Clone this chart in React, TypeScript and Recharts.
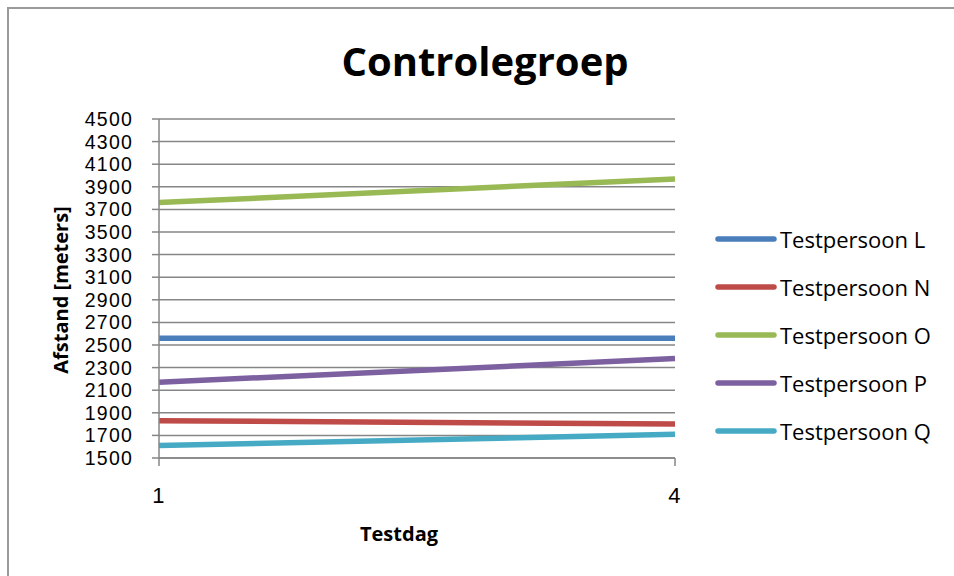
import React from 'react';
import {
  LineChart,
  Line,
  XAxis,
  YAxis,
  CartesianGrid,
  Legend,
} from 'recharts';

// data
const days = ['1', '4'];
const testpersoonL = [2560, 2560];
const testpersoonN = [1830, 1800];
const testpersoonO = [3760, 3970];
const testpersoonP = [2170, 2380];
const testpersoonQ = [1610, 1710];
const yTicks = [1500, 1700, 1900, 2100, 2300, 2500, 2700, 2900, 3100, 3300, 3500, 3700, 3900, 4100, 4300, 4500];

const seriesNames = ['Testpersoon L', 'Testpersoon N', 'Testpersoon O', 'Testpersoon P', 'Testpersoon Q'];
const seriesValues = [testpersoonL, testpersoonN, testpersoonO, testpersoonP, testpersoonQ];
const seriesColors = ['#4a7ebb', '#be4b48', '#98b954', '#7d60a0', '#46aac5'];

const data = days.map((day, i) => {
  const row: Record<string, string | number> = { day };
  seriesNames.forEach((name, s) => {
    row[name] = seriesValues[s][i];
  });
  return row;
});

const FONT = '"Open Sans", "Liberation Sans", sans-serif';
const TICK_FONT = '"Liberation Sans", Arial, sans-serif';
const GRID = '#868686';

const LegendBox = () => (
  <div style={{ fontFamily: FONT }}>
    {seriesNames.map((name, i) => (
      <div
        key={name}
        style={{ display: 'flex', alignItems: 'center', height: 48 }}
      >
        <svg width={62} height={10} style={{ marginRight: 3 }}>
          <line
            x1={3}
            y1={5}
            x2={59}
            y2={5}
            stroke={seriesColors[i]}
            strokeWidth={5.5}
            strokeLinecap="round"
          />
        </svg>
        <span style={{ fontSize: 22, color: '#000', whiteSpace: 'nowrap' }}>{name}</span>
      </div>
    ))}
  </div>
);

const App: React.FC = () => {
  return (
    <div
      style={{
        position: 'relative',
        width: 954,
        height: 576,
        overflow: 'hidden',
        background: '#fff',
        fontFamily: FONT,
      }}
    >
      <style>{'body{margin:0;overflow:hidden;}'}</style>
      <div
        style={{
          position: 'absolute',
          left: 7,
          top: 7,
          width: 1200,
          height: 800,
          borderLeft: '2px solid #9a9a9a',
          borderTop: '2px solid #9a9a9a',
        }}
      />
      <div
        style={{
          position: 'absolute',
          left: 0,
          top: 33,
          width: 970,
          textAlign: 'center',
          fontSize: 40,
          fontWeight: 700,
          color: '#000',
        }}
      >
        Controlegroep
      </div>
      <div style={{ position: 'absolute', left: 0, top: 0 }}>
        <LineChart
          width={954}
          height={576}
          data={data}
          margin={{ top: 119, right: 279, bottom: 58, left: 0 }}
        >
          <CartesianGrid vertical={false} stroke={GRID} strokeWidth={1.5} />
          <XAxis
            dataKey="day"
            interval={0}
            height={60}
            tickSize={8}
            tickMargin={21}
            axisLine={{ stroke: GRID, strokeWidth: 1.5 }}
            tickLine={{ stroke: GRID, strokeWidth: 1.5 }}
            tick={{ fill: '#000', fontSize: 22, fontFamily: TICK_FONT, letterSpacing: 1.2 }}
            label={{
              content: () => (
                <text
                  x={399}
                  y={541}
                  textAnchor="middle"
                  fontSize={20}
                  fontWeight={700}
                  fill="#000"
                  fontFamily={FONT}
                >
                  Testdag
                </text>
              ),
            }}
          />
          <YAxis
            domain={[1500, 4500]}
            ticks={yTicks}
            interval={0}
            width={159}
            tickSize={7}
            tickMargin={19}
            axisLine={{ stroke: GRID, strokeWidth: 1.5 }}
            tickLine={{ stroke: GRID, strokeWidth: 1.5 }}
            tick={{ fill: '#000', fontSize: 19.5, fontFamily: TICK_FONT, letterSpacing: 1.2 }}
            label={{
              content: () => (
                <text
                  x={60}
                  y={290}
                  transform="rotate(-90 60 290)"
                  textAnchor="middle"
                  dominantBaseline="central"
                  fontSize={20}
                  fontWeight={700}
                  fill="#000"
                  fontFamily={FONT}
                >
                  Afstand [meters]
                </text>
              ),
            }}
          />
          <Legend
            layout="horizontal"
            verticalAlign="middle"
            align="center"
            content={() => <LegendBox />}
            wrapperStyle={{ left: 715, top: 215, width: 240 }}
          />
          {seriesNames.map((name, i) => (
            <Line
              key={name}
              type="linear"
              dataKey={name}
              stroke={seriesColors[i]}
              strokeWidth={5.5}
              dot={false}
              activeDot={false}
              isAnimationActive={false}
            />
          ))}
        </LineChart>
      </div>
    </div>
  );
};

export default App;
